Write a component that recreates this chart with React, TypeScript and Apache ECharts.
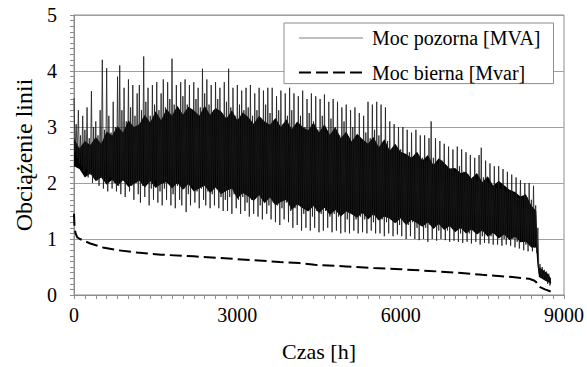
import React, { useEffect, useRef } from 'react';
import * as echarts from 'echarts';

// Apparent power [MVA], one reading every STEP_H hours, starting at hour 0
const STEP_H = 20;
const apparentPower = [
  3.52,2.55,3.05,2.45,3.3,2.35,2.85,2.3,3.2,2.2,2.95,2.25,3.35,2.1,2.8,2.15,3.64,2.0,3.0,2.1,
  3.1,2.05,2.85,1.95,3.3,2.1,4.2,1.9,2.95,2.0,4.05,1.85,3.2,2.1,2.9,1.9,3.45,2.0,3.0,1.85,
  3.9,1.95,4.1,1.8,3.3,2.05,3.7,1.75,3.1,2.0,3.85,1.85,3.35,1.95,3.75,1.7,3.2,2.0,3.6,1.8,
  3.75,1.65,3.3,1.95,4.26,1.75,3.45,2.0,3.7,1.6,3.2,1.9,3.75,1.7,3.4,2.05,3.8,1.65,3.3,1.85,
  3.6,1.6,3.85,1.9,3.35,1.7,3.8,2.0,3.5,1.6,4.22,1.8,3.4,1.55,3.75,1.95,3.3,1.7,3.8,1.6,
  3.55,1.9,3.85,1.48,3.4,1.8,3.75,1.6,3.3,1.95,3.8,1.65,3.5,1.85,3.7,1.55,3.35,1.9,4.04,1.7,
  3.6,1.6,3.85,1.85,3.4,1.55,3.75,1.8,3.3,1.6,3.8,1.9,3.5,1.55,3.7,1.75,3.25,1.5,3.8,1.7,
  3.45,1.5,4.04,1.75,3.35,1.45,3.7,1.8,3.2,1.55,3.75,1.7,3.4,1.45,3.65,1.75,3.3,1.5,3.7,1.65,
  3.35,1.4,3.75,1.7,3.2,1.45,3.6,1.75,3.3,1.4,3.7,1.6,3.15,1.35,3.65,1.7,3.4,1.45,3.7,1.6,
  3.25,1.35,3.7,1.65,3.1,1.3,3.55,1.6,3.3,1.25,3.65,1.55,3.05,1.35,3.6,1.65,3.2,1.3,3.7,1.5,
  3.3,1.2,3.6,1.55,3.0,1.25,3.55,1.6,3.2,1.15,3.65,1.45,3.0,1.2,3.5,1.55,3.25,1.15,3.6,1.4,
  3.1,1.2,3.55,1.5,2.95,1.12,3.5,1.45,3.2,1.15,3.58,1.5,2.9,1.2,3.45,1.4,3.15,1.12,3.5,1.45,
  3.0,1.15,3.45,1.4,2.85,1.1,3.35,1.45,3.1,1.12,3.4,1.35,2.8,1.1,3.3,1.45,3.0,1.15,3.35,1.35,
  2.8,1.1,3.25,1.4,2.75,1.12,3.2,1.35,2.9,1.1,3.45,1.4,2.8,1.15,3.4,1.3,2.95,1.1,3.45,1.35,
  2.85,1.1,3.4,1.35,2.7,1.05,3.35,1.3,2.75,1.1,3.1,1.35,2.6,1.05,3.05,1.3,2.65,1.08,3.0,1.25,
  2.6,1.05,3.0,1.3,2.5,1.0,2.95,1.25,2.55,1.05,2.9,1.3,2.45,1.0,2.95,1.2,2.5,0.98,2.85,1.25,
  2.45,1.0,2.85,1.2,2.4,0.95,2.8,1.25,3.1,1.0,2.45,1.2,2.8,0.97,2.35,1.15,2.75,1.0,2.4,1.2,
  2.7,0.98,2.3,1.15,2.65,0.95,2.25,1.2,2.6,0.97,2.2,1.15,2.65,0.95,2.3,1.1,2.6,0.93,2.2,1.15,
  2.55,0.95,2.15,1.1,2.5,0.92,2.1,1.15,2.45,0.95,2.05,1.1,2.5,0.9,2.63,1.05,2.1,0.93,2.4,1.1,
  2.0,0.92,2.35,1.05,1.95,0.9,2.3,1.1,1.9,0.9,2.3,1.05,1.9,0.88,2.25,1.0,1.85,0.9,2.2,1.0,
  1.85,0.88,2.15,1.0,1.8,0.85,2.1,0.95,1.75,0.83,2.05,0.95,1.7,0.8,2.0,0.9,1.75,0.78,2.0,0.88,
  1.7,0.78,1.95,0.85,1.6,0.75,1.2,0.4,0.55,0.3,0.5,0.28,0.45,0.25,0.42,0.2,0.38,0.17,0.22,
];

// Dense (solid black) part of the apparent-power trace
const coreHours = [
  0,100,200,300,400,500,600,700,800,900,1000,1100,1200,1300,1400,1500,1600,1700,1800,1900,
  2000,2100,2200,2300,2400,2500,2600,2700,2800,2900,3000,3100,3200,3300,3400,3500,3600,3700,3800,3900,
  4000,4100,4200,4300,4400,4500,4600,4700,4800,4900,5000,5100,5200,5300,5400,5500,5600,5700,5800,5900,
  6000,6100,6200,6300,6400,6500,6600,6700,6800,6900,7000,7100,7200,7300,7400,7500,7600,7700,7800,7900,
  8000,8100,8200,8300,8400,8490,8510,8540,8600,8650,8700,8760,
];
const coreHigh = [
  2.8,2.62,2.75,2.68,2.82,2.7,2.92,2.85,3.02,2.9,3.12,3.0,3.05,3.22,3.08,3.28,3.12,3.32,3.2,3.38,
  3.22,3.36,3.3,3.2,3.38,3.22,3.34,3.28,3.15,3.3,3.12,3.26,3.18,3.06,3.2,3.1,3.04,3.16,3.0,3.14,
  2.96,3.1,3.0,2.94,3.08,2.9,3.05,2.86,3.0,2.8,2.92,2.74,2.88,2.78,2.7,2.82,2.64,2.78,2.58,2.7,
  2.56,2.52,2.45,2.56,2.4,2.5,2.32,2.44,2.36,2.26,2.27,2.18,2.2,2.08,2.18,2.02,2.12,1.95,2.04,1.96,
  1.88,1.84,1.76,1.8,1.6,1.5,1.0,0.5,0.46,0.42,0.38,0.3,
];
const coreLow = [
  2.3,2.25,2.1,2.17,2.03,2.1,1.97,2.06,1.95,2.05,1.93,1.98,2.04,1.92,2.03,1.91,1.98,2.02,1.9,2.0,
  1.88,1.98,1.85,1.9,1.95,1.82,1.92,1.8,1.86,1.9,1.72,1.82,1.76,1.68,1.78,1.64,1.74,1.6,1.66,1.7,
  1.52,1.62,1.55,1.49,1.59,1.46,1.56,1.43,1.52,1.4,1.49,1.44,1.38,1.47,1.35,1.44,1.33,1.4,1.36,1.28,
  1.37,1.25,1.34,1.28,1.22,1.3,1.18,1.27,1.16,1.23,1.12,1.2,1.1,1.17,1.08,1.15,1.04,1.11,1.01,1.08,
  0.98,1.04,0.94,0.95,0.85,0.85,0.55,0.32,0.29,0.26,0.23,0.2,
];

// Reactive power [Mvar]
const reactiveHours = [0,10,30,60,110,200,300,530,800,1150,1600,2200,3000,3780,4140,4420,5000,5500,6000,6525,7000,7500,8050,8360,8450,8490,8520,8560,8650,8760];
const reactivePower = [1.45,1.2,1.1,1.03,1.0,0.96,0.92,0.85,0.8,0.76,0.72,0.69,0.64,0.59,0.57,0.54,0.51,0.48,0.46,0.43,0.4,0.36,0.32,0.29,0.26,0.23,0.18,0.14,0.1,0.06];

const SERIES_NAMES = ['Moc pozorna [MVA]', 'Moc bierna [Mvar]'];
const X_NAME = 'Czas [h]';
const Y_NAME = 'Obciążenie linii';

const FONT = "'Liberation Serif', 'Times New Roman', serif";
const AXIS_GRAY = '#8c8c8c';
const GRID_GRAY = '#a0a0a0';

export default function App() {
  const ref = useRef<HTMLDivElement>(null);
  useEffect(() => {
    document.body.style.margin = '0';
    const chart = echarts.init(ref.current!, null, { renderer: 'svg' });
    const apparentData = apparentPower.map((v, i) => [i * STEP_H, v]);
    const reactiveData = reactiveHours.map((h, i) => [h, reactivePower[i]]);
    chart.setOption({
      animation: false,
      backgroundColor: '#fff',
      grid: { left: 74, right: 22, top: 15, bottom: 71, show: true, borderColor: AXIS_GRAY, borderWidth: 1 },
      xAxis: {
        type: 'value', min: 0, max: 9000, interval: 3000,
        name: X_NAME, nameLocation: 'middle', nameGap: 45,
        nameTextStyle: { fontFamily: FONT, fontSize: 22, color: '#000' },
        axisLine: { show: true, lineStyle: { color: AXIS_GRAY } },
        axisTick: { show: true, length: 4, lineStyle: { color: AXIS_GRAY } },
        minorTick: { show: true, splitNumber: 15, length: 4, lineStyle: { color: AXIS_GRAY } },
        axisLabel: { fontFamily: FONT, fontSize: 20, color: '#000', margin: 10, formatter: (v: number) => String(v) },
        splitLine: { show: false },
      },
      yAxis: {
        type: 'value', min: 0, max: 5, interval: 1,
        name: Y_NAME, nameLocation: 'middle', nameGap: 35,
        nameTextStyle: { fontFamily: FONT, fontSize: 24, color: '#000' },
        axisLine: { show: true, lineStyle: { color: AXIS_GRAY } },
        axisTick: { show: true, length: 4, lineStyle: { color: AXIS_GRAY } },
        minorTick: { show: true, splitNumber: 10, length: 4, lineStyle: { color: AXIS_GRAY } },
        axisLabel: { fontFamily: FONT, fontSize: 20, color: '#000', margin: 17 },
        splitLine: { show: true, lineStyle: { color: GRID_GRAY, width: 1 } },
      },
      legend: {
        orient: 'vertical', left: 284, top: 23,
        padding: [5, 13, 1, 14], itemGap: 14.6, itemWidth: 64, itemHeight: 20,
        borderColor: AXIS_GRAY, borderWidth: 1, backgroundColor: '#fff',
        textStyle: { fontFamily: FONT, fontSize: 20, color: '#000', padding: [0, 0, 0, 4] },
        data: [
          { name: SERIES_NAMES[0], lineStyle: { color: '#808080', width: 1 }, itemStyle: { opacity: 0 } },
          { name: SERIES_NAMES[1], itemStyle: { opacity: 0 } },
        ],
      },
      series: [
        {
          name: 'core', type: 'custom', silent: true, clip: true, z: 1,
          data: [[0, 0]],
          renderItem: (_params: any, api: any) => {
            const pts: number[][] = [];
            for (let i = 0; i < coreHours.length; i++) pts.push(api.coord([coreHours[i], coreHigh[i]]));
            for (let i = coreHours.length - 1; i >= 0; i--) pts.push(api.coord([coreHours[i], coreLow[i]]));
            return { type: 'polygon', shape: { points: pts }, style: { fill: '#000' } };
          },
        },
        {
          name: SERIES_NAMES[0], type: 'line', data: apparentData, symbol: 'none', silent: true, z: 2,
          lineStyle: { color: '#1a1a1a', width: 0.8 }, itemStyle: { color: '#000' },
        },
        {
          name: SERIES_NAMES[1], type: 'line', data: reactiveData, symbol: 'none', silent: true, z: 2,
          lineStyle: { color: '#000', width: 2, type: [12, 5] }, itemStyle: { color: '#000' },
        },
      ],
    });
    return () => chart.dispose();
  }, []);
  return <div ref={ref} style={{ width: 587, height: 367, background: '#fff' }} />;
}
